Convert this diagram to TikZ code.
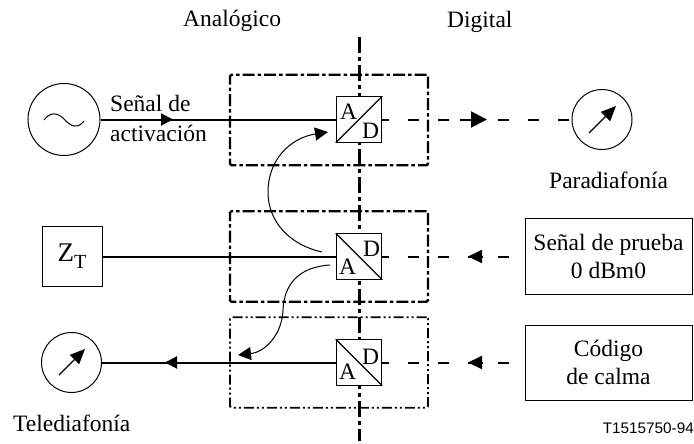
\documentclass[tikz,border=0pt]{standalone}
\usepackage{fontspec}
\setmainfont{Liberation Serif}
\setsansfont{Liberation Sans}
\usetikzlibrary{arrows.meta}

\tikzset{
    lbl/.style={inner sep=0pt, font=\fontsize{23.5}{23.5}\selectfont},
    sig/.style={line width=2pt},
    digi/.style={line width=2pt, dash pattern=on 11pt off 19pt, dash phase=4pt},
    tipa/.style={-{Triangle[length=12pt,width=12pt]}, line width=2pt},
    tipb/.style={-{Triangle[length=16pt,width=16pt]}, line width=2pt},
    tipc/.style={-{Triangle[length=14pt,width=13pt]}, line width=2pt},
    loopback/.style={-{Triangle[length=13pt,width=13pt]}, line width=1pt},
    instr/.style={circle, draw, line width=1pt, inner sep=0pt},
    plain/.style={rectangle, draw, line width=1pt, inner sep=0pt, align=center, font=\fontsize{23.5}{28}\selectfont},
    conv/.style={rectangle, draw, line width=1.1pt, fill=white, inner sep=0pt, minimum size=45.5pt},
    zone/.style={rectangle, draw, inner sep=0pt, minimum width=198pt, minimum height=90.5pt, rounded corners=1.5pt},
    zonea/.style={zone, line width=2.3pt, dash pattern=on 12pt off 3pt on 3.5pt off 3pt},
    zoneb/.style={zone, line width=1.8pt, dash pattern=on 10pt off 3pt on 2pt off 3pt on 2pt off 3pt},
    needle/.style={-{Triangle[length=15pt,width=13pt]}, line width=1.3pt},
}

\begin{document}
\begin{tikzpicture}[x=1pt, y=-1pt]
\useasboundingbox (0, 0) rectangle (694, 444);

% border between the two domains
\coordinate (bordertop) at (359.5, 37);
\coordinate (borderbot) at (359.5, 441);
\draw [line width=2.4pt, dash pattern=on 16pt off 4pt on 4pt off 4pt] (bordertop) -- (borderbot);

% headings
\node [lbl, anchor=base west] (analog) at (183, 27) {Analógico};
\node [lbl, anchor=base west] (digital) at (447, 28) {Digital};


% zones
\node [zonea] (zonetop) at (329, 120) {};
\node [zonea] (zonemid) at (329, 256.5) {};
\node [zoneb] (zonebot) at (329, 362.5) {};


% converters
\node [conv] (adtop) at (359, 119.5) {};
\node [conv] (admid) at (359, 256.5) {};
\node [conv] (adbot) at (359, 362.5) {};
\draw [line width=1.1pt] (adtop.south west) to (adtop.north east);
\draw [line width=1.1pt] (admid.north west) to (admid.south east);
\draw [line width=1.1pt] (adbot.north west) to (adbot.south east);

\node [lbl, anchor=base west] (atop) at (340, 120) {A};
\node [lbl, anchor=base west] (dtop) at (362, 138) {D};
\node [lbl, anchor=base west] (dmid) at (363, 256) {D};
\node [lbl, anchor=base west] (amid) at (339, 274) {A};
\node [lbl, anchor=base west] (dbot) at (362, 364) {D};
\node [lbl, anchor=base west] (abot) at (339, 379) {A};


% left side
\node [instr, minimum size=72pt] (gen) at (64, 119.5) {};
\draw [line width=1pt] (44, 120)
    .. controls (50, 112) and (57, 112) .. (64, 119)
    .. controls (71, 127) and (78, 129) .. (84, 121);
\node [plain, minimum size=60pt] (zt) at (72, 256.5) {\fontsize{27}{27}\selectfont Z\raisebox{-7pt}{\fontsize{20}{20}\selectfont T}};
\node [instr, minimum size=60pt] (tele) at (71.5, 362.5) {};
\coordinate (telefrom) at (59, 375);
\coordinate (teleto) at (85, 349);
\draw [needle] (telefrom) to (teleto);

\node [lbl, anchor=base west] (senal) at (110, 112) {Señal de};
\node [lbl, anchor=base west] (activ) at (110, 141) {activación};
\node [lbl, anchor=base west] (telelbl) at (13, 431) {Telediafonía};


% right side
\node [instr, minimum size=60pt] (para) at (602, 119.5) {};
\coordinate (parafrom) at (589, 133);
\coordinate (parato) at (616, 106);
\draw [needle] (parafrom) to (parato);
\node [lbl, anchor=base west] (paralbl) at (549, 188) {Paradiafonía};

\node [plain, minimum width=167pt, minimum height=76pt] (prueba) at (608.5, 256.5) {Señal de prueba\\0 dBm0};
\node [plain, minimum width=167pt, minimum height=75pt] (calma) at (608.5, 362.5) {Código\\de calma};
\node [anchor=base east, inner sep=0pt, font=\sffamily\fontsize{15.3}{15.3}\selectfont] (ref) at (694, 433) {T1515750-94};


% analog lines
\coordinate (senaltip) at (173, 119.5);
\coordinate (teletip) at (165, 362.5);
\draw [sig] (gen.east) to (adtop.west);
\draw [tipa] (gen.east) to (senaltip);
\draw [sig] (zt.east) to (admid.west);
\draw [sig] (adbot.west) to (tele.east);
\draw [tipa] (adbot.west) to (teletip);


% digital lines
\coordinate (tipone) at (487, 119.5);
\coordinate (tiptwo) at (468, 256.5);
\coordinate (tipthree) at (468, 362.5);
\coordinate (fromone) at (460, 119.5);
\coordinate (fromtwo) at (483, 256.5);
\coordinate (fromthree) at (483, 362.5);
\draw [digi] (adtop.east) to (para.west);
\draw [digi] (admid.east) to (prueba.west);
\draw [digi] (adbot.east) to (calma.west);
\draw [tipb] (fromone) to (tipone);
\draw [tipc] (fromtwo) to (tiptwo);
\draw [tipc] (fromthree) to (tipthree);


% loops between converters
\coordinate (loopastart) at (322, 252);
\coordinate (loopaend) at (328, 132);
\coordinate (loopbstart) at (330, 265);
\coordinate (loopbend) at (238, 355);
\draw [loopback] (loopastart)
    .. controls (290, 245) and (268, 222) .. (268, 192)
    .. controls (268, 160) and (290, 138) .. (loopaend);
\draw [loopback] (loopbstart)
    .. controls (298, 267) and (284, 285) .. (283, 310)
    .. controls (282, 335) and (265, 352) .. (loopbend);

\end{tikzpicture}
\end{document}
